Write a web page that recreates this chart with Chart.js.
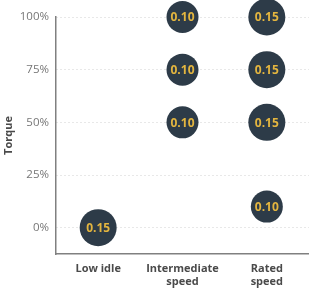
<!DOCTYPE html>
<html><head><meta charset="utf-8">
<script src="https://cdn.jsdelivr.net/npm/chart.js@4"></script>
<style>html,body{margin:0;padding:0;background:#fff}#wrap{width:309px;height:294px}</style>
</head><body><div id="wrap"><canvas id="c"></canvas></div>
<script>
const categories = [["Low idle"], ["Intermediate", "speed"], ["Rated", "speed"]];
const torqueTicks = [0, 25, 50, 75, 100];
const lowIdle = [{ torque: 0, value: 0.15 }];
const intermediate = [{ torque: 50, value: 0.10 }, { torque: 75, value: 0.10 }, { torque: 100, value: 0.10 }];
const rated = [{ torque: 10, value: 0.10 }, { torque: 50, value: 0.15 }, { torque: 75, value: 0.15 }, { torque: 100, value: 0.15 }];

const points = [];
[lowIdle, intermediate, rated].forEach((arr, i) => arr.forEach(p => points.push({ x: i, y: p.torque, v: p.value })));

const labelPlugin = {
  id: 'bubbleLabels',
  afterDatasetsDraw(chart) {
    const ctx = chart.ctx;
    const meta = chart.getDatasetMeta(0);
    ctx.save();
    ctx.fillStyle = '#e3b53f';
    ctx.font = 'bold 12px "Open Sans"';
    ctx.textAlign = 'center';
    ctx.textBaseline = 'middle';
    meta.data.forEach((el, i) => {
      const d = chart.data.datasets[0].data[i];
      ctx.fillText(d.v.toFixed(2), el.x, el.y + 1);
    });
    ctx.restore();
  }
};

new Chart(document.getElementById('c'), {
  type: 'bubble',
  data: { datasets: [{
    data: points,
    backgroundColor: '#2d3b48',
    borderColor: '#2d3b48',
    borderWidth: 0,
    clip: false,
    radius: ctx => ctx.raw ? 11 + 50 * ctx.raw.v : 16,
    hoverRadius: 0
  }] },
  options: {
    responsive: true, maintainAspectRatio: false, animation: false,
    layout: { autoPadding: false, padding: { top: 17, right: 0, left: 0, bottom: 0 } },
    plugins: { legend: { display: false }, tooltip: { enabled: false } },
    scales: {
      x: {
        type: 'linear', min: -0.5, max: 2.5,
        afterBuildTicks: s => { s.ticks = categories.map((c, i) => ({ value: i })); },
        afterFit: s => { s.height = 40; s.paddingLeft = 0; s.paddingRight = 0; },
        ticks: { callback: (v) => categories[v], color: '#4a4a4a', font: { family: '"Open Sans"', size: 11, weight: 'bold' }, padding: 8, maxRotation: 0, autoSkip: false },
        grid: { display: false, drawTicks: false, tickLength: 0 },
        border: { display: true, color: '#808080', width: 1.5 }
      },
      y: {
        min: -12.5, max: 100,
        afterBuildTicks: s => { s.ticks = torqueTicks.map(v => ({ value: v })); },
        afterFit: s => { s.width = 56; },
        ticks: { callback: v => v + '%', color: '#777', font: { family: '"Open Sans"', size: 11.5 }, padding: 7 },
        grid: { color: '#d0d0d0', drawTicks: false },
        border: { display: true, color: '#808080', width: 1.5, dash: [1, 3] },
        title: { display: true, text: 'Torque', color: '#4a4a4a', font: { family: '"Open Sans"', size: 11, weight: 'bold' }, padding: 2 }
      }
    }
  },
  plugins: [labelPlugin]
});
</script>
</body></html>
